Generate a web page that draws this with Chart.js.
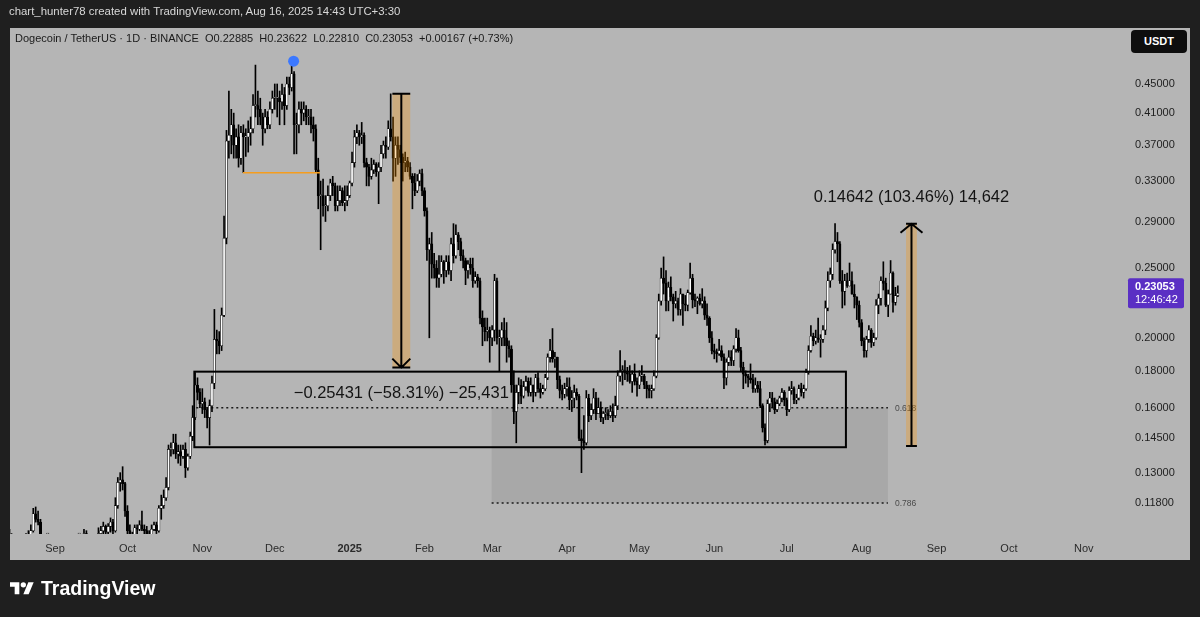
<!DOCTYPE html>
<html><head><meta charset="utf-8">
<script src="https://cdn.jsdelivr.net/npm/chart.js@4.4.1/dist/chart.umd.min.js"></script>
<style>
html,body{margin:0;padding:0;background:#1f1f1f;width:1200px;height:617px;overflow:hidden;font-family:'Liberation Sans',Arial,sans-serif}
#wrap{position:relative;width:1200px;height:617px}
#c{position:absolute;left:0;top:0;width:1200px;height:617px}
.hdr{position:absolute;left:9px;top:5px;color:#d8d8d8;font-size:11.4px;white-space:nowrap}
.sym{position:absolute;left:15px;top:32px;color:#1a1a1a;font-size:11px;white-space:nowrap}
.usdt{position:absolute;left:1131px;top:30px;width:56px;height:23px;background:#0e0e0e;border-radius:4px;color:#fff;font-size:11px;font-weight:bold;text-align:center;line-height:23px}
.logo{position:absolute;left:10px;top:582px}
.brand{position:absolute;left:41px;top:577px;color:#fff;font-size:19.5px;font-weight:bold;white-space:nowrap}
</style></head>
<body><div id="wrap">
<canvas id="c" width="1200" height="617"></canvas>
<div class="hdr">chart_hunter78 created with TradingView.com, Aug 16, 2025 14:43 UTC+3:30</div>
<div class="sym">Dogecoin / TetherUS · 1D · BINANCE&nbsp; O0.22885&nbsp; H0.23622&nbsp; L0.22810&nbsp; C0.23053&nbsp; +0.00167 (+0.73%)</div>
<div class="usdt">USDT</div>
<svg class="logo" width="24" height="15" viewBox="0 0 36 22"><path d="M14 18H7V7H0V0h14v18z" fill="#fff"/><circle cx="20" cy="4" r="4" fill="#fff"/><path d="M28 18h-8l7.5-18h8z" fill="#fff"/></svg>
<div class="brand">TradingView</div>
</div>
<script>
// ---------- DATA (daily DOGE/USDT, first candle = 2024-08-13; day 0 = 2024-09-01) ----------
const startDay = -19;
const firstOpen = 0.1085;
const closes = [
// Aug 2024 (13-31)
0.1060,0.1020,0.0990,0.1000,0.1020,0.1000,0.1015,0.1030,0.1060,0.1080,0.1140,0.1120,0.1110,0.1050,0.1000,0.1010,0.1010,0.1020,0.1010,
// Sep 2024
0.0975,0.1000,0.0965,0.0970,0.0950,0.0930,0.0960,0.0990,0.1030,0.1020,0.1020,0.1040,0.1070,0.1055,0.1020,0.0990,0.1030,0.1040,0.1070,0.1080,0.1095,0.1075,0.1095,0.1110,0.1080,0.1170,0.1260,0.1270,0.1255,0.1150,
// Oct 2024
0.1080,0.1050,0.1045,0.1090,0.1085,0.1100,0.1085,0.1080,0.1050,0.1055,0.1085,0.1100,0.1080,0.1160,0.1170,0.1200,0.1240,0.1400,0.1400,0.1430,0.1380,0.1390,0.1370,0.1400,0.1320,0.1370,0.1460,0.1550,0.1720,0.1680,0.1620,
// Nov 2024
0.1630,0.1590,0.1550,0.1610,0.1730,0.1990,0.1980,0.1950,0.2150,0.2750,0.3750,0.3820,0.3950,0.3700,0.3800,0.3550,0.3850,0.3800,0.3800,0.3850,0.3900,0.4200,0.4200,0.4150,0.4050,0.3900,0.4050,0.3950,0.4150,0.4300,
// Dec 2024
0.4300,0.4300,0.4250,0.4350,0.4200,0.4500,0.4450,0.4650,0.3950,0.3950,0.4150,0.4100,0.4150,0.4050,0.4050,0.3950,0.3900,0.3420,0.3150,0.3150,0.3050,0.3050,0.3150,0.3280,0.3250,0.3050,0.3100,0.3200,0.3080,0.3100,0.3150,
// Jan 2025
0.3280,0.3500,0.3800,0.3850,0.3800,0.3820,0.3500,0.3450,0.3350,0.3420,0.3480,0.3400,0.3450,0.3600,0.3700,0.3680,0.3900,0.3800,0.3550,0.3700,0.3650,0.3560,0.3500,0.3520,0.3450,0.3350,0.3280,0.3200,0.3300,0.3380,0.3200,
// Feb 2025
0.3000,0.2650,0.2700,0.2530,0.2500,0.2420,0.2450,0.2550,0.2480,0.2550,0.2480,0.2700,0.2600,0.2780,0.2720,0.2600,0.2560,0.2480,0.2530,0.2500,0.2400,0.2430,0.2400,0.2130,0.2070,0.2040,0.2050,0.2000,
// Mar 2025
0.2050,0.2400,0.2000,0.2000,0.2050,0.2000,0.1950,0.1930,0.1720,0.1580,0.1680,0.1720,0.1660,0.1710,0.1740,0.1680,0.1720,0.1680,0.1760,0.1700,0.1680,0.1700,0.1760,0.1880,0.1920,0.1870,0.1880,0.1750,0.1690,0.1670,0.1700,
// Apr 2025
0.1710,0.1640,0.1650,0.1680,0.1660,0.1450,0.1440,0.1430,0.1650,0.1560,0.1590,0.1650,0.1570,0.1600,0.1550,0.1570,0.1570,0.1560,0.1580,0.1560,0.1610,0.1770,0.1800,0.1800,0.1790,0.1780,0.1740,0.1780,0.1740,0.1720,
// May 2025
0.1770,0.1770,0.1720,0.1700,0.1690,0.1700,0.1770,0.2000,0.2250,0.2420,0.2380,0.2250,0.2350,0.2280,0.2230,0.2250,0.2190,0.2300,0.2230,0.2220,0.2310,0.2420,0.2260,0.2250,0.2270,0.2230,0.2250,0.2150,0.2130,0.2000,0.1920,
// Jun 2025
0.1910,0.1900,0.1920,0.1880,0.1760,0.1850,0.1880,0.1860,0.1930,0.2000,0.1920,0.1820,0.1780,0.1770,0.1760,0.1750,0.1700,0.1720,0.1700,0.1610,0.1500,0.1440,0.1620,0.1650,0.1630,0.1590,0.1620,0.1650,0.1680,0.1640,
// Jul 2025
0.1590,0.1690,0.1700,0.1640,0.1650,0.1700,0.1680,0.1700,0.1790,0.1920,0.2010,0.1980,0.2000,0.1990,0.1990,0.2050,0.2200,0.2400,0.2450,0.2650,0.2720,0.2700,0.2400,0.2320,0.2400,0.2360,0.2400,0.2300,0.2280,0.2220,0.2100,
// Aug 2025 (1-16)
0.1980,0.1920,0.1990,0.2050,0.1970,0.2000,0.2220,0.2270,0.2400,0.2380,0.2220,0.2300,0.2460,0.2240,0.22885,0.23053
];
const highs = [
0.1090,0.1070,0.1040,0.1020,0.1030,0.1040,0.1020,0.1070,0.1080,0.1100,0.1160,0.1165,0.1150,0.1120,0.1060,0.1040,0.1050,0.1030,0.1025,
0.1010,0.1005,0.1010,0.0985,0.0985,0.0980,0.0970,0.0995,0.1040,0.1040,0.1030,0.1060,0.1085,0.1080,0.1065,0.1025,0.1045,0.1050,0.1090,0.1095,0.1110,0.1100,0.1105,0.1125,0.1120,0.1200,0.1280,0.1300,0.1325,0.1260,
0.1170,0.1100,0.1075,0.1100,0.1100,0.1115,0.1150,0.1100,0.1095,0.1080,0.1100,0.1110,0.1110,0.1170,0.1210,0.1230,0.1280,0.1420,0.1430,0.1470,0.1470,0.1420,0.1420,0.1420,0.1430,0.1380,0.1480,0.1610,0.1790,0.1760,0.1700,
0.1700,0.1650,0.1600,0.1640,0.1770,0.2190,0.2050,0.2040,0.2200,0.2950,0.3880,0.4400,0.4150,0.4100,0.3900,0.3950,0.3930,0.3950,0.3900,0.4000,0.4050,0.4350,0.4780,0.4400,0.4300,0.4100,0.4150,0.4120,0.4250,0.4400,
0.4500,0.4500,0.4400,0.4500,0.4450,0.4600,0.4600,0.4840,0.4680,0.4100,0.4250,0.4250,0.4250,0.4200,0.4150,0.4150,0.4050,0.3950,0.3550,0.3300,0.3320,0.3150,0.3250,0.3320,0.3350,0.3280,0.3250,0.3250,0.3230,0.3250,0.3250,
0.3300,0.3620,0.3880,0.3950,0.3880,0.3980,0.3850,0.3550,0.3480,0.3550,0.3530,0.3500,0.3500,0.3700,0.3750,0.3800,0.4000,0.4360,0.4050,0.3800,0.3800,0.3700,0.3600,0.3620,0.3560,0.3500,0.3380,0.3380,0.3370,0.3420,0.3430,
0.3230,0.3030,0.2750,0.2800,0.2620,0.2560,0.2600,0.2600,0.2560,0.2600,0.2600,0.2750,0.2880,0.2870,0.2800,0.2750,0.2650,0.2580,0.2560,0.2580,0.2580,0.2470,0.2450,0.2420,0.2180,0.2130,0.2130,0.2070,
0.2080,0.2450,0.2420,0.2050,0.2100,0.2130,0.2100,0.1980,0.1950,0.1800,0.1720,0.1760,0.1750,0.1740,0.1770,0.1760,0.1760,0.1720,0.1780,0.1790,0.1730,0.1720,0.1780,0.1900,0.1990,0.2060,0.1910,0.1880,0.1770,0.1720,0.1730,
0.1760,0.1760,0.1690,0.1720,0.1700,0.1670,0.1490,0.1560,0.1690,0.1670,0.1620,0.1700,0.1680,0.1650,0.1630,0.1580,0.1600,0.1590,0.1610,0.1620,0.1660,0.1800,0.1920,0.1830,0.1860,0.1820,0.1830,0.1800,0.1840,0.1760,
0.1800,0.1830,0.1780,0.1740,0.1720,0.1720,0.1800,0.2020,0.2300,0.2500,0.2590,0.2480,0.2390,0.2430,0.2300,0.2320,0.2270,0.2340,0.2300,0.2290,0.2330,0.2540,0.2450,0.2300,0.2280,0.2300,0.2340,0.2280,0.2230,0.2140,0.2040,
0.1960,0.1930,0.1990,0.1950,0.1900,0.1870,0.1920,0.1920,0.1950,0.2060,0.2050,0.1940,0.1850,0.1800,0.1780,0.1840,0.1780,0.1760,0.1740,0.1740,0.1620,0.1520,0.1640,0.1680,0.1680,0.1650,0.1640,0.1660,0.1700,0.1690,
0.1650,0.1710,0.1740,0.1710,0.1670,0.1720,0.1730,0.1720,0.1810,0.1950,0.2080,0.2030,0.2050,0.2130,0.2020,0.2080,0.2250,0.2470,0.2500,0.2700,0.2880,0.2800,0.2720,0.2480,0.2450,0.2460,0.2540,0.2470,0.2370,0.2280,0.2250,
0.2120,0.2000,0.2010,0.2080,0.2060,0.2030,0.2260,0.2300,0.2430,0.2550,0.2420,0.2330,0.2560,0.2470,0.2350,0.23622
];
const lows = [
0.1030,0.1010,0.0960,0.0985,0.0995,0.0995,0.0975,0.1005,0.1010,0.1050,0.1075,0.1110,0.1100,0.1040,0.0980,0.0990,0.0995,0.0960,0.1000,
0.0960,0.0960,0.0960,0.0920,0.0940,0.0910,0.0925,0.0950,0.0980,0.1005,0.0990,0.1010,0.1025,0.1040,0.1010,0.0980,0.0990,0.0990,0.1040,0.1050,0.1065,0.1050,0.1060,0.1075,0.1070,0.1075,0.1160,0.1225,0.1230,0.1130,
0.1050,0.1030,0.1020,0.1040,0.1070,0.1080,0.1080,0.1060,0.1045,0.1035,0.1050,0.1080,0.1070,0.1075,0.1120,0.1160,0.1190,0.1230,0.1370,0.1380,0.1360,0.1340,0.1330,0.1360,0.1280,0.1310,0.1360,0.1440,0.1540,0.1640,0.1600,
0.1570,0.1550,0.1500,0.1420,0.1580,0.1700,0.1900,0.1900,0.1920,0.2140,0.2700,0.3550,0.3600,0.3550,0.3550,0.3450,0.3480,0.3390,0.3570,0.3620,0.3700,0.3850,0.4050,0.3950,0.3950,0.3700,0.3850,0.3900,0.3900,0.4100,
0.4150,0.4050,0.3950,0.4150,0.3950,0.4150,0.4350,0.4400,0.3600,0.3600,0.3850,0.3950,0.4000,0.3950,0.3950,0.3850,0.3750,0.3400,0.3020,0.2650,0.2950,0.2900,0.3000,0.3100,0.3150,0.3000,0.3000,0.3050,0.3050,0.3000,0.3050,
0.3130,0.3250,0.3450,0.3720,0.3700,0.3720,0.3450,0.3250,0.3250,0.3320,0.3380,0.3350,0.3070,0.3400,0.3550,0.3550,0.3650,0.3750,0.3300,0.3350,0.3480,0.3500,0.3300,0.3400,0.3400,0.3320,0.3020,0.3150,0.3180,0.3250,0.3150,
0.2950,0.2560,0.2000,0.2420,0.2420,0.2350,0.2350,0.2430,0.2380,0.2430,0.2450,0.2400,0.2540,0.2580,0.2650,0.2560,0.2500,0.2370,0.2420,0.2450,0.2350,0.2380,0.2350,0.2090,0.1950,0.1980,0.1980,0.1850,
0.1950,0.1980,0.1960,0.1800,0.1950,0.1950,0.1850,0.1880,0.1680,0.1520,0.1430,0.1620,0.1620,0.1650,0.1690,0.1660,0.1660,0.1630,0.1660,0.1680,0.1650,0.1670,0.1690,0.1750,0.1850,0.1850,0.1820,0.1700,0.1650,0.1640,0.1650,
0.1660,0.1590,0.1580,0.1600,0.1640,0.1440,0.1300,0.1400,0.1420,0.1530,0.1540,0.1570,0.1540,0.1570,0.1530,0.1520,0.1540,0.1540,0.1550,0.1530,0.1550,0.1590,0.1740,0.1720,0.1750,0.1740,0.1730,0.1680,0.1720,0.1660,
0.1700,0.1740,0.1700,0.1650,0.1650,0.1650,0.1690,0.1760,0.1990,0.2220,0.2300,0.2180,0.2180,0.2250,0.2110,0.2200,0.2150,0.2150,0.2080,0.2180,0.2180,0.2300,0.2200,0.2210,0.2160,0.2220,0.2200,0.2120,0.2080,0.1970,0.1900,
0.1870,0.1850,0.1890,0.1860,0.1700,0.1720,0.1830,0.1830,0.1830,0.1910,0.1910,0.1800,0.1700,0.1730,0.1710,0.1730,0.1680,0.1680,0.1680,0.1600,0.1480,0.1420,0.1430,0.1580,0.1600,0.1570,0.1580,0.1610,0.1630,0.1610,
0.1560,0.1580,0.1670,0.1620,0.1620,0.1640,0.1660,0.1650,0.1690,0.1780,0.1910,0.1950,0.1960,0.1970,0.1880,0.1970,0.2020,0.2180,0.2350,0.2410,0.2620,0.2550,0.2380,0.2200,0.2220,0.2350,0.2360,0.2300,0.2200,0.2120,0.2070,
0.1950,0.1880,0.1880,0.1970,0.1940,0.1950,0.1990,0.2160,0.2220,0.2330,0.2210,0.2140,0.2300,0.2170,0.2220,0.22810
];
const yTicks = [0.118,0.13,0.145,0.16,0.18,0.20,0.25,0.29,0.33,0.37,0.41,0.45];
const monthDays = [0,30,61,91,122,153,181,212,242,273,303,334,365,395,426];
const monthLabels = ['Sep','Oct','Nov','Dec','2025','Feb','Mar','Apr','May','Jun','Jul','Aug','Sep','Oct','Nov'];
// drawings (day, price)
const rangeBoxDays = [57.7, 327.5], rangeBoxPrices = [0.1795, 0.1410];
const dropDays = [139.7, 147.1], dropPrices = [0.43614, 0.18183], dropLabel = '\u22120.25431 (\u221258.31%) \u221225,431';
const riseDays = [352.4, 356.9], risePrices = [0.14152, 0.28794], riseLabel = '0.14642 (103.46%) 14,642';
const fibDays = [180.8, 344.9], fibLineStart = 58.5, fib618 = 0.16, fib786 = 0.118;
const supportDays = [77.8, 109.7], supportPrice = 0.3389;
const peakDay = 98.8, peakPrice = 0.484;
const lastPrice = 0.23053, lastTime = '12:46:42';

// ---------- BUILD ----------
const wickData = [], bodyData = [];
for (let i = 0; i < closes.length; i++) {
  const o = i === 0 ? firstOpen : closes[i - 1], c = closes[i];
  const x = startDay + i;
  wickData.push({x, y: [Math.min(lows[i], o, c), Math.max(highs[i], o, c)]});
  bodyData.push({x, y: [o, c], up: c >= o});
}

const FONT = "'Liberation Sans', Arial, sans-serif";
const drawings = {
  id: 'drawings',
  beforeDraw(chart) {
    const ctx = chart.ctx;
    ctx.save();
    ctx.fillStyle = '#1f1f1f'; ctx.fillRect(0, 0, 1200, 617);
    ctx.fillStyle = '#b5b5b5'; ctx.fillRect(10, 28, 1180, 532);
    ctx.restore();
  },
  beforeDatasetsDraw(chart) {
    const ctx = chart.ctx, xs = chart.scales.x, ys = chart.scales.y;
    const X = d => xs.getPixelForValue(d), Y = p => ys.getPixelForValue(p);
    ctx.save();
    ctx.fillStyle = 'rgba(0,0,0,0.065)';
    ctx.fillRect(X(fibDays[0]), Y(fib618), X(fibDays[1]) - X(fibDays[0]), Y(fib786) - Y(fib618));
    ctx.strokeStyle = '#1a1a1a'; ctx.lineWidth = 1.5; ctx.setLineDash([2, 3]);
    ctx.beginPath();
    ctx.moveTo(X(fibLineStart), Y(fib618)); ctx.lineTo(X(fibDays[1]), Y(fib618));
    ctx.moveTo(X(fibDays[0]), Y(fib786)); ctx.lineTo(X(fibDays[1]), Y(fib786));
    ctx.stroke();
    ctx.setLineDash([]);
    ctx.fillStyle = '#4a4a4a'; ctx.font = '8.5px ' + FONT; ctx.textBaseline = 'middle'; ctx.textAlign = 'left';
    ctx.fillText('0.618', X(fibDays[1]) + 7, Y(fib618) + 1);
    ctx.fillText('0.786', X(fibDays[1]) + 7, Y(fib786) + 1);
    ctx.restore();
  },
  afterDatasetsDraw(chart) {
    const ctx = chart.ctx, xs = chart.scales.x, ys = chart.scales.y;
    const X = d => xs.getPixelForValue(d), Y = p => ys.getPixelForValue(p);
    ctx.save();
    ctx.strokeStyle = '#000'; ctx.lineWidth = 2;
    ctx.strokeRect(X(rangeBoxDays[0]), Y(rangeBoxPrices[0]), X(rangeBoxDays[1]) - X(rangeBoxDays[0]), Y(rangeBoxPrices[1]) - Y(rangeBoxPrices[0]));
    ctx.strokeStyle = '#f59d1e'; ctx.lineWidth = 1.5;
    ctx.beginPath(); ctx.moveTo(X(supportDays[0]), Y(supportPrice)); ctx.lineTo(X(supportDays[1]), Y(supportPrice)); ctx.stroke();
    function band(days, p0, p1, arrowUp, headW) {
      const xl = X(days[0]), xr = X(days[1]), cx = (xl + xr) / 2;
      const yTop = Y(Math.max(p0, p1)), yBot = Y(Math.min(p0, p1));
      ctx.fillStyle = 'rgba(255,150,0,0.30)';
      ctx.fillRect(xl, yTop, xr - xl, yBot - yTop);
      ctx.strokeStyle = '#000'; ctx.lineWidth = 2;
      ctx.beginPath();
      ctx.moveTo(cx, yTop); ctx.lineTo(cx, yBot);
      ctx.moveTo(xl, yTop); ctx.lineTo(xr, yTop);
      ctx.moveTo(xl, yBot); ctx.lineTo(xr, yBot);
      if (arrowUp) { ctx.moveTo(cx - headW, yTop + 9); ctx.lineTo(cx, yTop); ctx.lineTo(cx + headW, yTop + 9); }
      else { ctx.moveTo(cx - headW, yBot - 9); ctx.lineTo(cx, yBot); ctx.lineTo(cx + headW, yBot - 9); }
      ctx.stroke();
      return cx;
    }
    const c1 = band(dropDays, dropPrices[0], dropPrices[1], false, 9);
    const c2 = band(riseDays, risePrices[0], risePrices[1], true, 11);
    ctx.fillStyle = '#141414'; ctx.font = '16.5px ' + FONT; ctx.textAlign = 'center'; ctx.textBaseline = 'middle';
    ctx.fillText(dropLabel, c1, Y(dropPrices[1]) + 26);
    ctx.fillText(riseLabel, c2, Y(risePrices[1]) - 26);
    ctx.fillStyle = '#3b78ff';
    ctx.beginPath(); ctx.arc(X(peakDay), Y(peakPrice), 5.5, 0, Math.PI * 2); ctx.fill();
    ctx.restore();
  },
  afterDraw(chart) {
    const ctx = chart.ctx, ys = chart.scales.y;
    const yp = ys.getPixelForValue(lastPrice);
    ctx.save();
    ctx.fillStyle = '#5a2fc4';
    ctx.beginPath(); ctx.roundRect(1128, yp - 15, 56, 30, 2); ctx.fill();
    ctx.fillStyle = '#fff'; ctx.textAlign = 'left'; ctx.textBaseline = 'middle';
    ctx.font = 'bold 11px ' + FONT; ctx.fillText(lastPrice.toFixed(5), 1135, yp - 6);
    ctx.font = '11px ' + FONT; ctx.fillText(lastTime, 1135, yp + 7);
    ctx.restore();
  }
};

new Chart(document.getElementById('c'), {
  type: 'bar',
  data: {
    datasets: [
      {data: wickData, backgroundColor: '#000', barThickness: 1, grouped: false, borderWidth: 0, clip: 0, order: 2},
      {data: bodyData, grouped: false, barThickness: 2.3, minBarLength: 1, clip: 0, order: 1,
       backgroundColor: ctx => (ctx.raw && ctx.raw.up) ? '#ffffff' : '#000000',
       borderColor: '#000', borderWidth: 0.6, borderSkipped: false}
    ]
  },
  options: {
    responsive: false, animation: false, devicePixelRatio: 1,
    layout: {padding: {left: 10, right: 10, top: 30, bottom: 57}},
    plugins: {legend: {display: false}, tooltip: {enabled: false}},
    scales: {
      x: {
        type: 'linear', min: -18.634, max: 441.82, offset: false,
        grid: {display: false, drawTicks: false}, border: {display: false},
        afterBuildTicks: s => { s.ticks = monthDays.map(v => ({value: v})); },
        afterFit: s => { s.height = 26; },
        ticks: {
          autoSkip: false, maxRotation: 0, padding: 8, color: '#2b2b2b',
          font: c => ({family: FONT, size: 11, weight: (c.tick && c.tick.value === 122) ? 'bold' : 'normal'}),
          callback: v => monthLabels[monthDays.indexOf(v)]
        }
      },
      y: {
        type: 'logarithmic', position: 'right', min: 0.10686, max: 0.5347,
        grid: {display: false, drawTicks: false}, border: {display: false},
        afterBuildTicks: s => { s.ticks = yTicks.map(v => ({value: v})); },
        afterFit: s => { s.width = 68; },
        ticks: {autoSkip: false, padding: 13, color: '#1e1e1e', font: {family: FONT, size: 11},
          callback: v => Number(v).toFixed(5)}
      }
    }
  },
  plugins: [drawings]
});
</script>
</body></html>
